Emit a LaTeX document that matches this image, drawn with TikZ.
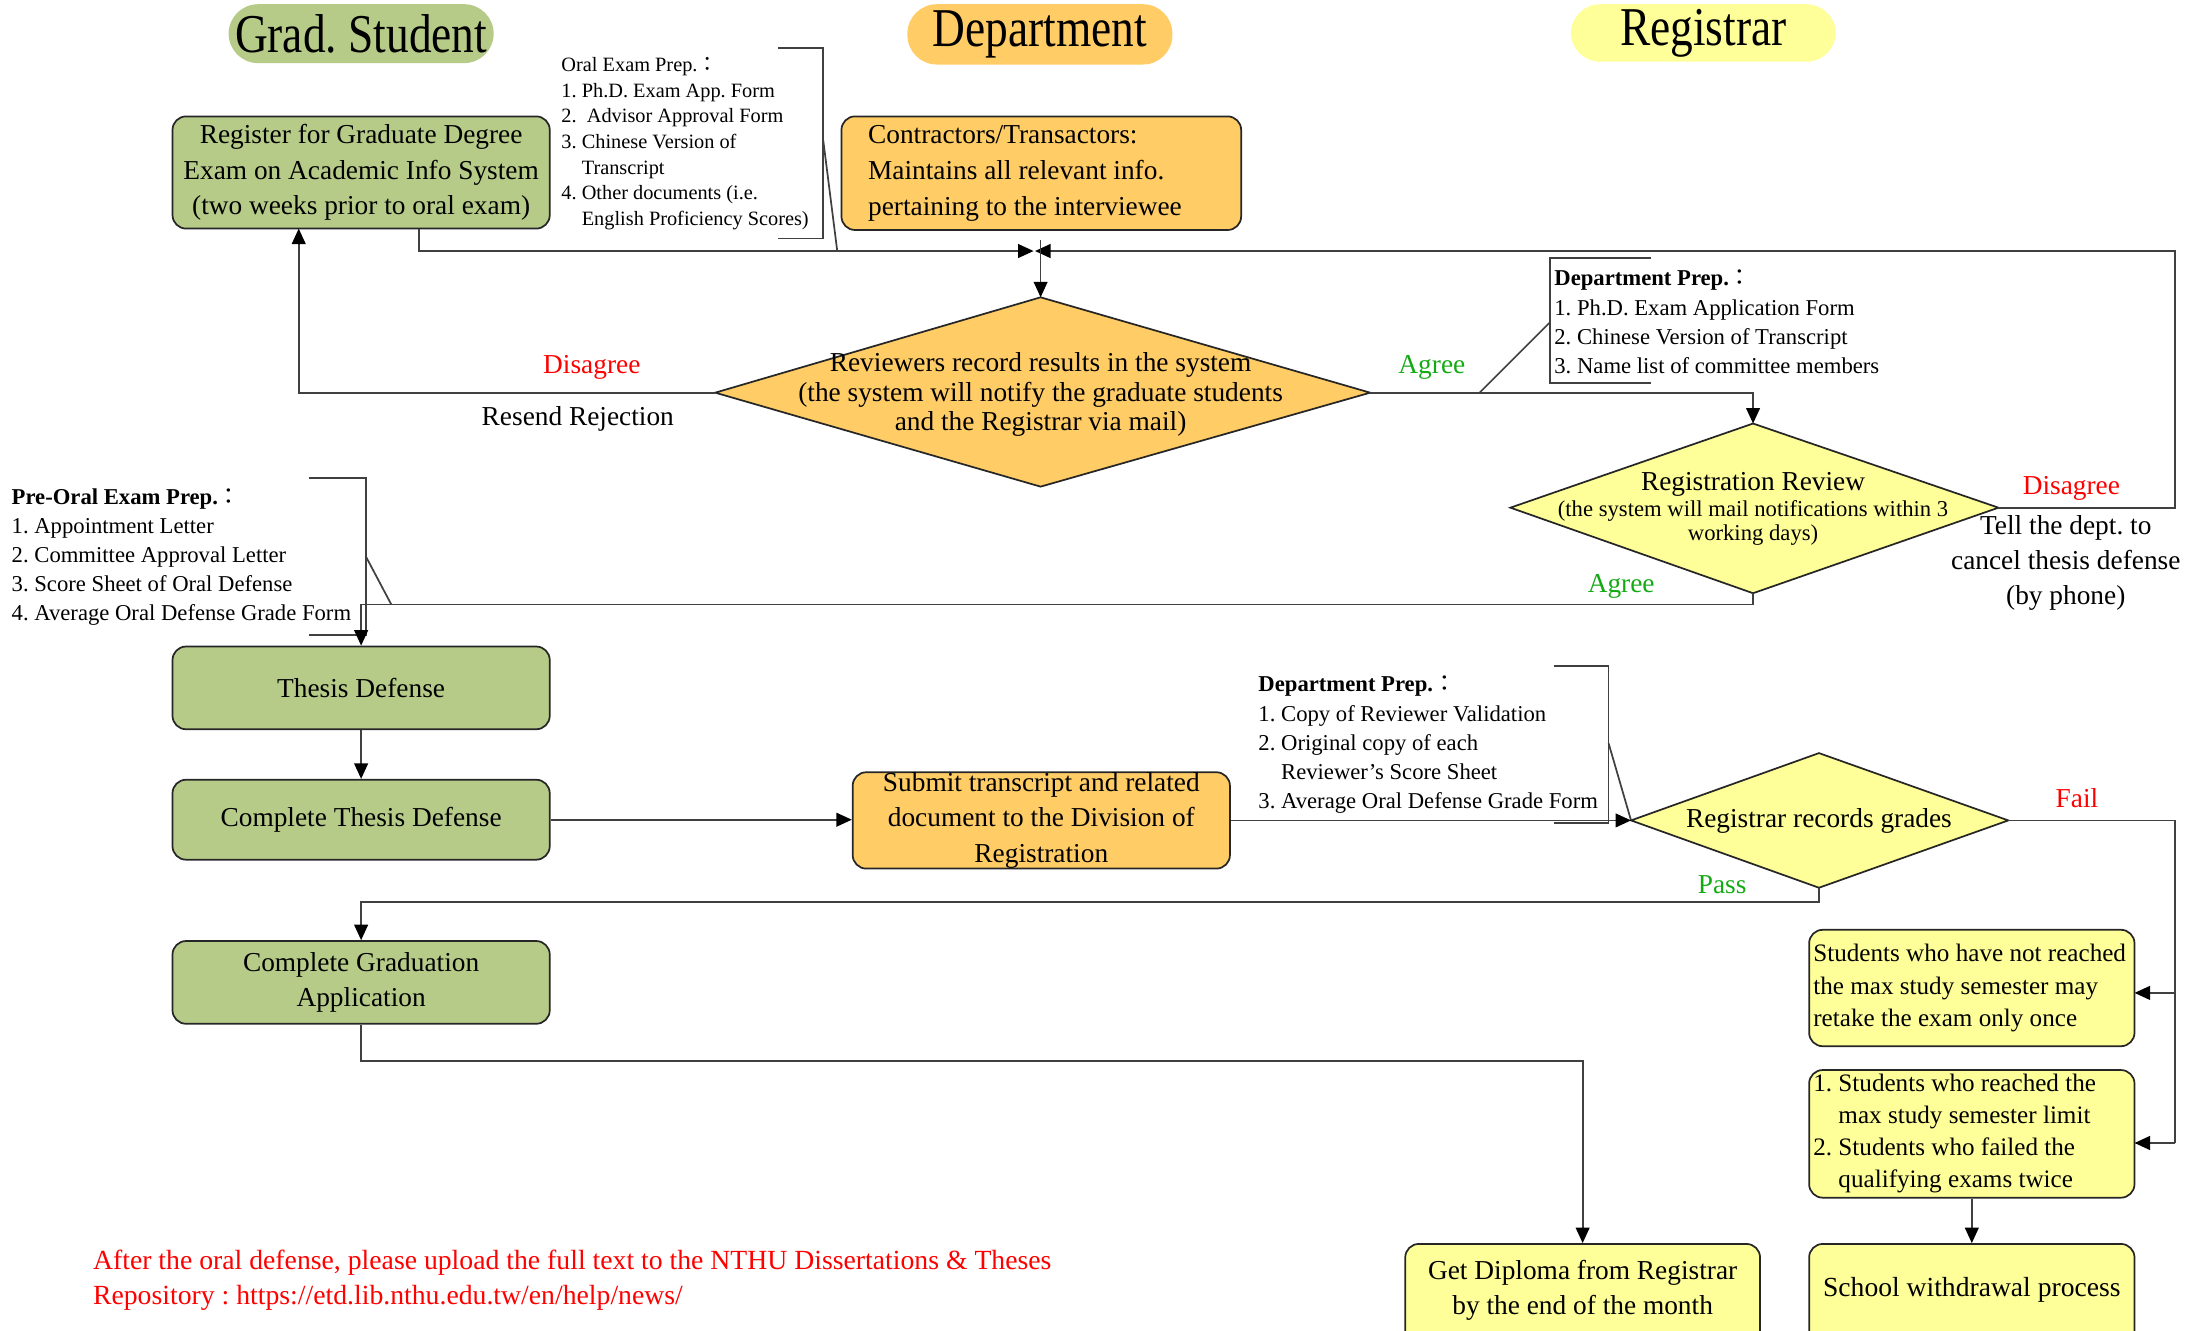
\documentclass[tikz,border=0pt]{standalone}
\usepackage{fontspec}
\setmainfont{Liberation Serif}
\newfontfamily\hdrfont[FakeStretch=0.83]{Liberation Serif}
\newfontfamily\cjk{Noto Sans CJK TC}
\usetikzlibrary{arrows.meta,calc}
\definecolor{gfill}{RGB}{183,203,137}
\definecolor{ofill}{RGB}{255,204,102}
\definecolor{yfill}{RGB}{255,255,153}
\definecolor{agreeg}{RGB}{20,170,20}
\definecolor{disred}{RGB}{255,0,0}
\newcommand\upx{0.02cm}
\newcommand\fs[2]{\fontsize{#1}{#2}\selectfont}
\newcommand\fcol{{\cjk ：}}
\frenchspacing
\begin{document}
\begin{tikzpicture}[x=0.02cm,y=-0.02cm,
  ln/.style={line width=0.7pt,draw=black!75},
  arr/.style={ln,-{Triangle[length=6.3pt,width=5.6pt,color=black]}},
  box/.style={draw=black!85,line width=0.7pt,rounded corners=5.5pt,inner sep=0pt,align=center,font=\fs{11.1}{14.5}},
  pill/.style={rounded corners=0.42cm,inner sep=0pt,font=\hdrfont\fs{22.2}{24}},
  note/.style={inner sep=0pt,align=flush left,anchor=west},
  lbl/.style={inner sep=0pt,font=\fs{11.1}{14.2}},
  dia/.style={draw=black!85,line width=0.7pt}]
\useasboundingbox (0,0) rectangle (1568,949);

% headers
\node[pill,fill=gfill,minimum width=189*\upx,minimum height=42*\upx] (hgs) at (257.5,24) {Grad. Student};
\node[pill,fill=ofill,minimum width=189*\upx,minimum height=43*\upx] (hdp) at (741.5,24.5) {Department};
\node[pill,fill=yfill,minimum width=189*\upx,minimum height=41*\upx] (hrg) at (1214.5,23.5) {Registrar};

% top row
\node[box,fill=gfill,minimum width=269*\upx,minimum height=80*\upx] (reg) at (257.5,123)
  {Register for Graduate Degree\\Exam on Academic Info System\\(two weeks prior to oral exam)};
\node[note,font=\fs{8.25}{10.4}] (oralp) at (400,102.5)
  {Oral Exam Prep.\fcol\\1. Ph.D. Exam App. Form\\2.\ \ Advisor Approval Form\\3. Chinese Version of\\\phantom{3. }Transcript\\4. Other documents (i.e.\\\phantom{4. }English Proficiency Scores)};
\draw[ln] (555,34) -- (587,34) -- (587,170) -- (555,170);
\draw[ln] (587,100) -- (597,179);
\node[box,fill=ofill,minimum width=285*\upx,minimum height=81*\upx,text width=247*\upx,align=flush left] (dept) at (742.5,123.5)
  {Contractors/Transactors:\\Maintains all relevant info.\\pertaining to the interviewee};

% reviewers diamond
\coordinate (rvL) at (510,280);
\coordinate (rvR) at (977,280);
\coordinate (rvT) at (742,212);
\coordinate (rvB) at (742,347);
\filldraw[dia,fill=ofill] (rvL) -- (rvT) -- (rvR) -- (rvB) -- cycle;
\node[lbl,align=center,font=\fs{11.1}{12}] (rvtext) at (742,281.5)
  {Reviewers record results in the system\\(the system will notify the graduate students\\and the Registrar via mail)};

\coordinate (J) at (737,179);
\coordinate (J2) at (738,179);
\coordinate (Jtop) at (742,171);
\coordinate (Jbot) at (742,179);
\coordinate (regout) at (299,163);
\coordinate (rejin) at (213,163);
\coordinate (loopc) at (1551,179);

\node[lbl,text=disred] (dis1) at (422,262) {Disagree};
\node[lbl] (resend) at (412,299) {Resend Rejection};
\node[lbl,text=agreeg] (agr1) at (1021,262) {Agree};

% department prep 1
\draw[ln] (1177,184) -- (1105,184) -- (1105,273) -- (1177,273);
\draw[ln] (1105,230) -- (1055,280);
\node[note,font=\fs{9.2}{11.8}] (dprep1) at (1108,229.5)
  {\textbf{Department Prep.}\fcol\\1. Ph.D. Exam Application Form\\2. Chinese Version of Transcript\\3. Name list of committee members};

% registration review
\coordinate (rrL) at (1077,362);
\coordinate (rrR) at (1425,362);
\coordinate (rrT) at (1250,302);
\coordinate (rrB) at (1250,423);
\filldraw[dia,fill=yfill] (rrL) -- (rrT) -- (rrR) -- (rrB) -- cycle;
\node[lbl] (rrtitle) at (1250,345.5) {Registration Review};
\node[lbl,align=center,font=\fs{9.2}{9.7}] (rrsub) at (1250,373)
  {(the system will mail notifications within 3\\working days)};
\node[lbl,text=disred] (dis2) at (1477,348) {Disagree};
\node[lbl,align=center] (tell) at (1473,401.5) {Tell the dept. to\\cancel thesis defense\\(by phone)};
\node[lbl,text=agreeg] (agr2) at (1156,418) {Agree};
\coordinate (ag2) at (1250,431);

% pre-oral prep
\node[note,font=\fs{9.2}{11.8}] (preoral) at (8,397)
  {\textbf{Pre-Oral Exam Prep.}\fcol\\1. Appointment Letter\\2. Committee Approval Letter\\3. Score Sheet of Oral Defense\\4. Average Oral Defense Grade Form};
\draw[ln] (220,341) -- (261,341) -- (261,453) -- (220,453);
\draw[ln] (261,397) -- (279,431);

% middle boxes
\node[box,fill=gfill,minimum width=269*\upx,minimum height=59*\upx] (td) at (257.5,490.5) {Thesis Defense};
\node[box,fill=gfill,minimum width=269*\upx,minimum height=57*\upx] (ctd) at (257.5,584.5) {Complete Thesis Defense};
\node[box,fill=ofill,minimum width=269*\upx,minimum height=64*\upx] (sub) at (742.5,585)
  {Submit transcript and related\\document to the Division of\\Registration};

% department prep 2
\node[note,font=\fs{9.2}{11.8}] (dprep2) at (897,531)
  {\textbf{Department Prep.}\fcol\\1. Copy of Reviewer Validation\\2. Original copy of each\\\phantom{2. }Reviewer's Score Sheet\\3. Average Oral Defense Grade Form};
\draw[ln] (1108,475) -- (1147,475) -- (1147,587) -- (1108,587);
\draw[ln] (1147,530) -- (1163,585);

% registrar records grades
\coordinate (rgL) at (1163,585);
\coordinate (rgR) at (1432,585);
\coordinate (rgT) at (1297,537);
\coordinate (rgB) at (1297,633);
\filldraw[dia,fill=yfill] (rgL) -- (rgT) -- (rgR) -- (rgB) -- cycle;
\node[lbl] (rgtext) at (1297,585.5) {Registrar records grades};
\node[lbl,text=disred] (fail) at (1481,569) {Fail};
\node[lbl,text=agreeg] (pass) at (1228,631) {Pass};
\coordinate (pass1) at (1297,643);
\coordinate (fl) at (1551,0);
\coordinate (snin) at (1522,708);
\coordinate (srin) at (1522,815);

% bottom boxes
\node[box,fill=gfill,minimum width=269*\upx,minimum height=59*\upx] (cga) at (257.5,700.5) {Complete Graduation\\Application};
\node[box,fill=yfill,minimum width=232*\upx,minimum height=83*\upx,text width=226*\upx,align=flush left,font=\fs{10.2}{13.1}] (sn) at (1406,704.5)
  {Students who have not reached\\the max study semester may\\retake the exam only once};
\node[box,fill=yfill,minimum width=232*\upx,minimum height=91*\upx,text width=226*\upx,align=flush left,font=\fs{10.2}{13}] (sr) at (1406,808.5)
  {1. Students who reached the\\\phantom{1. }max study semester limit\\2. Students who failed the\\\phantom{2. }qualifying exams twice};
\node[box,fill=yfill,minimum width=253*\upx,minimum height=75*\upx] (dip) at (1128.5,924.5) {};
\node[lbl,align=center,font=\fs{11.1}{14.2}] (diptext) at (1128.5,920) {Get Diploma from Registrar\\by the end of the month};
\node[box,fill=yfill,minimum width=232*\upx,minimum height=75*\upx] (sw) at (1406,924.5) {};
\node[lbl,font=\fs{11.2}{14}] (swtext) at (1406,919.5) {School withdrawal process};

\node[note,text=disred,font=\fs{11.25}{14.2}] (foot) at (66,913)
  {After the oral defense, please upload the full text to the NTHU Dissertations \& Theses\\Repository : https://etd.lib.nthu.edu.tw/en/help/news/};

% connectors
\draw[arr] (regout) |- (J);
\draw[arr] (rrR) -| (loopc) -- (J2);
\draw[ln] (Jtop) -- (Jbot);
\draw[arr] (Jbot) -- (rvT);
\draw[arr] (rvL) -| (rejin);
\draw[arr] (rvR) -| (rrT);
\draw[arr] (rrB) -- (ag2) -| (td.north);
\draw[arr] (td) -- (ctd);
\draw[arr] (ctd.east) -- (ctd.east -| sub.west);
\draw[arr] (sub.east) -- (rgL);
\draw[ln] (rgR) -| (fl |- srin);
\draw[arr] (fl |- snin) -- (snin);
\draw[arr] (fl |- srin) -- (srin);
\draw[arr] (rgB) -- (pass1) -| (cga.north);
\draw[arr] (cga.south) -- ++(0,26) -| (dip.north);
\draw[arr] (sr) -- (sw);
\end{tikzpicture}
\end{document}
